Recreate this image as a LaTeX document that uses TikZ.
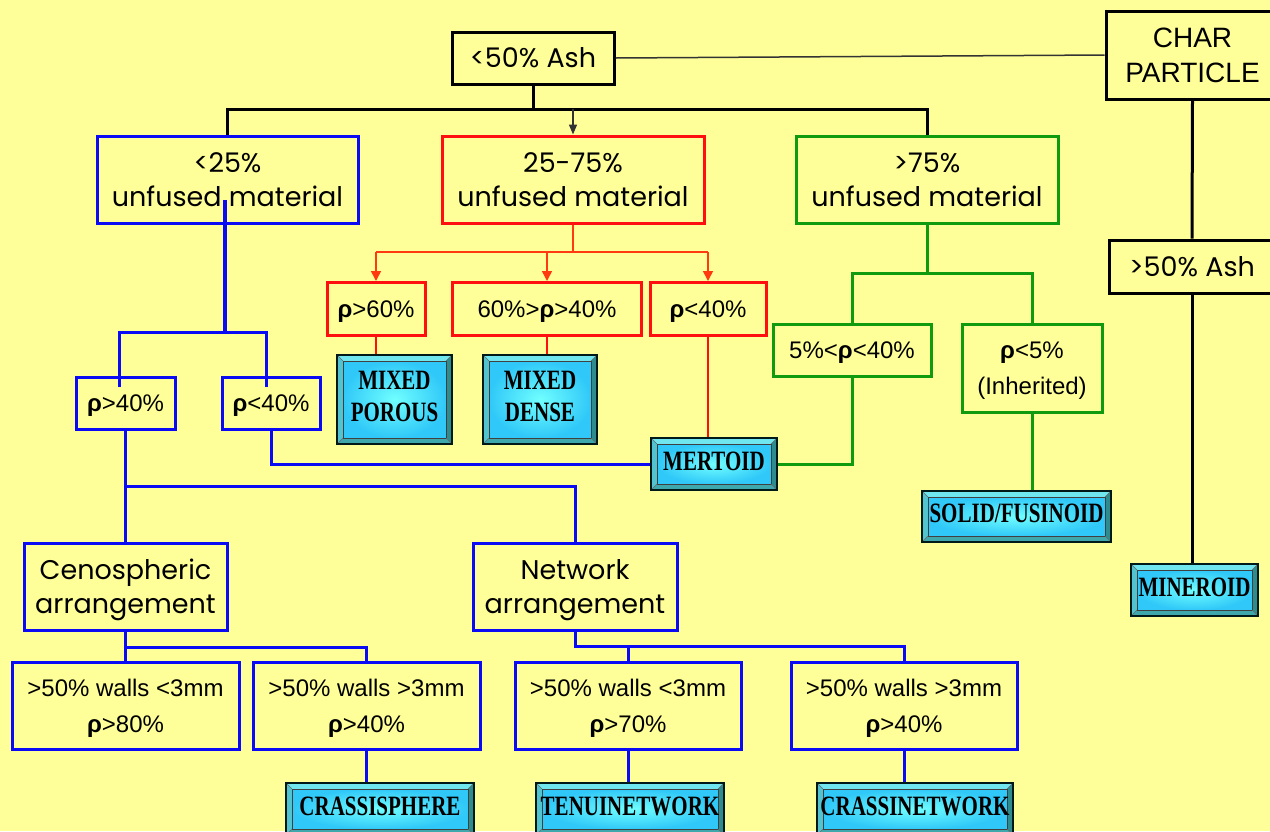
\documentclass[tikz,border=0pt]{standalone}
\usepackage{fontspec}
\usepackage{graphicx}
\setmainfont{Liberation Sans}
\newfontfamily\comicf{Poppins}
\newfontfamily\fancyf{Liberation Serif}
\usetikzlibrary{arrows.meta,calc}

\definecolor{bg}{HTML}{FFFF99}
\definecolor{bblue}{HTML}{0A0AF5}
\definecolor{rred}{HTML}{FF1010}
\definecolor{ggreen}{HTML}{109A10}
\definecolor{oran}{HTML}{FF3A10}
\definecolor{cyfaceA}{HTML}{70FFFF}
\definecolor{cyfaceB}{HTML}{30C8F8}
\definecolor{bvTop}{HTML}{70E6EE}
\definecolor{bvLeft}{HTML}{52C4D0}
\definecolor{bvRight}{HTML}{2E8C8E}
\definecolor{bvBot}{HTML}{3FA8AC}
\definecolor{thinblk}{HTML}{333333}

\newcommand{\rh}{\textbf{ρ}}
\newcommand{\fz}[1]{\scalebox{0.75}[1]{\begin{tabular}{@{}c@{}}#1\end{tabular}}}

\tikzset{
  sz/.style 2 args={minimum width=#1pt, minimum height=#2pt},
  boxbase/.style={line width=3pt, inner sep=0pt, align=center},
  kbox/.style={boxbase, draw=black},
  bbox/.style={boxbase, draw=bblue},
  rbox/.style={boxbase, draw=rred},
  gbox/.style={boxbase, draw=ggreen},
  comic/.style={font=\comicf\fontsize{27}{34}\selectfont, text depth=0pt},
  arial/.style={font=\fontsize{24}{36}\selectfont, text depth=0pt},
  fancy/.style={draw=black!80!teal, line width=1.5pt, inner sep=0pt, align=center,
    font=\fancyf\bfseries\fontsize{28}{32}\selectfont,
    path picture={
      \coordinate (pA) at (path picture bounding box.south west);
      \coordinate (pC) at (path picture bounding box.north east);
      \coordinate (pa) at ($(pA)+(6pt,6pt)$);
      \coordinate (pc) at ($(pC)+(-6pt,-6pt)$);
      \fill[bvTop] (pA|-pC) -- (pC) -- (pc) -- (pa|-pc) -- cycle;
      \fill[bvRight] (pC) -- (pC|-pA) -- (pc|-pa) -- (pc) -- cycle;
      \fill[bvBot] (pA) -- (pC|-pA) -- (pc|-pa) -- (pa) -- cycle;
      \fill[bvLeft] (pA) -- (pA|-pC) -- (pa|-pc) -- (pa) -- cycle;
      \shade[inner color=cyfaceA, outer color=cyfaceB] (pa) rectangle (pc);
      \draw[black!75, line width=1pt] (pa) rectangle (pc);
      \draw[black!60, line width=0.6pt] (pA) -- (pa) (pA|-pC) -- (pa|-pc) (pC) -- (pc) (pC|-pA) -- (pc|-pa);
    }},
  kline/.style={draw=black, line width=3pt},
  thinline/.style={draw=thinblk, line width=1.5pt},
  bline/.style={draw=bblue, line width=3pt},
  gline/.style={draw=ggreen, line width=3pt},
  rline/.style={draw=rred, line width=2.5pt},
  oline/.style={draw=oran, line width=1.5pt},
  oarrow/.style={oline, -{Triangle[length=10pt,width=10pt]}},
}

\begin{document}
\begin{tikzpicture}[x=1pt,y=-1pt]
\fill[bg] (0,0) rectangle (1270,831);
\useasboundingbox (0,0) rectangle (1270,831);
\clip (0,0) rectangle (1270,831);

% nodes
\node[kbox,comic,sz={162}{52}] (ash50) at (533,58) {<50\% Ash};
\node[kbox,sz={173}{88},font=\fontsize{28}{35}\selectfont] (char) at (1192.5,55) {CHAR\\PARTICLE};
\node[kbox,comic,sz={166}{53}] (ash50b) at (1192,266.5) {>50\% Ash};
\node[bbox,comic,sz={261}{87}] (b25) at (227.5,179.5) {<25\%\\unfused material};
\node[rbox,comic,sz={262}{87}] (b2575) at (573,179.5) {25-75\%\\unfused material};
\node[gbox,comic,sz={262}{87}] (b75) at (927,179.5) {>75\%\\unfused material};
\node[rbox,arial,sz={98}{53}] (r60) at (376,309) {\rh>60\%};
\node[rbox,arial,sz={189}{53}] (r6040) at (547,309) {60\%>\rh>40\%};
\node[rbox,arial,sz={116}{53}] (r40) at (708,309) {\rh<40\%};
\node[fancy,sz={115}{89}] (mixp) at (394.5,399.5) {\fz{MIXED\\POROUS}};
\node[fancy,sz={114}{89}] (mixd) at (540,399.5) {\fz{MIXED\\DENSE}};
\node[fancy,sz={126}{52}] (mert) at (714,464) {\fz{MERTOID}};
\node[gbox,arial,sz={158}{52}] (g540) at (852,350) {5\%<\rh<40\%};
\node[gbox,arial,sz={140}{88}] (g5) at (1032,368) {\rh<5\%\\(Inherited)};
\node[fancy,sz={189}{51}] (solid) at (1016.5,516.5) {\fz{SOLID/FUSINOID}};
\node[fancy,sz={127}{52}] (miner) at (1194.5,590) {\fz{MINEROID}};
\node[bbox,arial,sz={99}{52}] (rg40) at (125.5,403) {\rh>40\%};
\node[bbox,arial,sz={98}{52}] (rl40) at (271,403) {\rh<40\%};
\node[bbox,comic,sz={203}{87}] (ceno) at (125.5,586.5) {Cenospheric\\arrangement};
\node[bbox,comic,sz={204}{87}] (netw) at (575,586.5) {Network\\arrangement};
\node[bbox,arial,sz={227}{87}] (w1) at (125.5,705.5) {>50\% walls <3mm\\\rh>80\%};
\node[bbox,arial,sz={227}{87}] (w2) at (366.5,705.5) {>50\% walls >3mm\\\rh>40\%};
\node[bbox,arial,sz={226}{87}] (w3) at (628,705.5) {>50\% walls <3mm\\\rh>70\%};
\node[bbox,arial,sz={226}{87}] (w4) at (904,705.5) {>50\% walls >3mm\\\rh>40\%};
\node[fancy,sz={188}{52}] (crs) at (380,809) {\fz{CRASSISPHERE}};
\node[fancy,sz={188}{52}] (ten) at (630,809) {\fz{TENUINETWORK}};
\node[fancy,sz={196}{52}] (crn) at (915,809) {\fz{CRASSINETWORK}};

% junction coordinates
\coordinate (jA) at (533,109);
\coordinate (jB) at (573,252);
\coordinate (jC) at (927,273);
\coordinate (b25in) at (225,200);
\coordinate (jD) at (225,332);
\coordinate (rgin) at (119,387);
\coordinate (rlin) at (266,387);
\coordinate (jE) at (125,486);
\coordinate (jF) at (125,647);
\coordinate (jG) at (575,646);

% black tree
\draw[kline] (ash50.south) -- (jA);
\draw[kline] (b25.north) -- (b25.north |- jA) -- (b75.north |- jA) -- (b75.north);
\draw[thinline,-{Triangle[length=10pt,width=8pt]}] (b2575.north |- jA) -- (b2575.north);
\draw[thinline] (ash50.east) -- (char.west);
\draw[kline] (char.south) -- (ash50b.north);
\draw[kline] (ash50b.south) -- (ash50b.south |- miner.north);

% blue (<25%)
\draw[bline, line width=4pt] (b25in) -- (jD);
\draw[bline] (rgin) -- (rgin |- jD) -- (rlin |- jD) -- (rlin);
\draw[bline] (rg40.south) -- (ceno.north);
\draw[bline] (jE) -- (jE -| netw.north) -- (netw.north);
\draw[bline] (rl40.south) |- (mert.west);

% green (>75%)
\draw[gline] (b75.south) -- (jC);
\draw[gline] (g540.north) -- (g540.north |- jC) -- (g5.north |- jC) -- (g5.north);
\draw[gline] (g540.south) |- (mert.east);
\draw[gline] (g5.south) -- (g5.south |- solid.north);

% red (25-75%)
\draw[oline] (b2575.south) -- (jB);
\draw[oline] (r60.north |- jB) -- (r40.north |- jB);
\draw[oarrow] (r60.north |- jB) -- (r60.north);
\draw[oarrow] (r6040.north |- jB) -- (r6040.north);
\draw[oarrow] (r40.north |- jB) -- (r40.north);
\draw[rline] (r60.south) -- (r60.south |- mixp.north);
\draw[rline] (r6040.south) -- (r6040.south |- mixd.north);
\draw[rline] (r40.south) -- (r40.south |- mert.north);

% lower blue
\draw[bline] (ceno.south) -- (w1.north);
\draw[bline] (jF) -- (jF -| w2.north) -- (w2.north);
\draw[bline] (netw.south) -- (jG) -- (jG -| w4.north) -- (w4.north);
\draw[bline] (jG -| w3.north) -- (w3.north);
\draw[bline] (w2.south) -- (w2.south |- crs.north);
\draw[bline] (w3.south) -- (w3.south |- ten.north);
\draw[bline] (w4.south) -- (w4.south |- crn.north);
\end{tikzpicture}
\end{document}
